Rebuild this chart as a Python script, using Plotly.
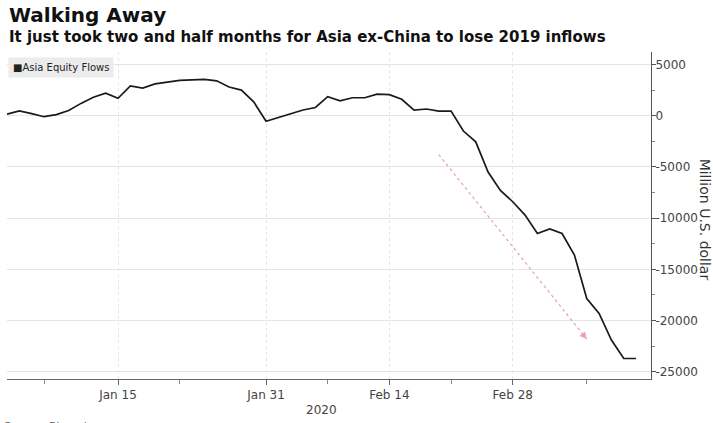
import pandas as pd
import plotly.graph_objects as go

# ---- data ----
dates = pd.bdate_range("2020-01-02", "2020-03-13")
flows = [150, 470, 200, -100, 100, 500, 1200, 1800, 2200, 1700,
         2900, 2700, 3100, 3300, 3450, 3500, 3550, 3400, 2800, 2500,
         1350, -550, -200, 200, 550, 800, 1850, 1450, 1750, 1750,
         2100, 2050, 1600, 550, 650, 450, 450, -1500, -2550, -5500,
         -7300, -8400, -9700, -11500, -11050, -11500, -13600, -17850, -19300, -21900,
         -23700, -23700]
series_name = "Asia Equity Flows"

x_tick_vals = ["2020-01-15", "2020-01-31", "2020-02-14", "2020-02-28"]
x_tick_text = ["Jan 15", "Jan 31", "Feb 14", "Feb 28"]
x_minor_vals = ["2020-01-07", "2020-01-22", "2020-02-07", "2020-02-21", "2020-03-09"]
y_tick_vals = [5000, 0, -5000, -10000, -15000, -20000, -25000]
y_tick_text = [str(v) for v in y_tick_vals]

arrow_start = ("2020-02-20", -3800)
arrow_end = ("2020-03-09", -21800)

title = "Walking Away"
subtitle = "It just took two and half months for Asia ex-China to lose 2019 inflows"
y_title = "Million U.S. dollar"
year_label = "2020"
source = "Source: Bloomberg"

FONT = "DejaVu Sans"

fig = go.Figure()
fig.add_trace(go.Scatter(
    x=dates, y=flows, mode="lines", name=series_name,
    line=dict(color="#1a1a1a", width=1.7), showlegend=False,
))

fig.update_layout(
    width=713, height=423,
    margin=dict(l=7, r=62, t=52, b=44, autoexpand=False),
    paper_bgcolor="white", plot_bgcolor="white",
    font=dict(family=FONT, size=12, color="#444"),
    xaxis=dict(
        automargin=False,
        range=["2020-01-02", "2020-03-16 05:00"],
        rangebreaks=[dict(bounds=["sat", "mon"])],
        tickmode="array", tickvals=x_tick_vals, ticktext=x_tick_text,
        ticks="outside", ticklen=5, tickcolor="#666",
        showline=True, linecolor="#666", linewidth=1,
        showgrid=True, gridcolor="#e4e4e4", griddash="dot",
        tickfont=dict(family=FONT, size=12, color="#444"),
        minor=dict(tickmode="array", tickvals=x_minor_vals, ticks="outside",
                   ticklen=4, tickcolor="#888", showgrid=False),
        zeroline=False,
    ),
    yaxis=dict(
        automargin=False,
        side="right", range=[-25700, 6215],
        tickmode="array", tickvals=y_tick_vals, ticktext=y_tick_text,
        ticks="outside", ticklen=4, tickcolor="#555",
        showline=True, linecolor="#555", linewidth=1,
        showgrid=True, gridcolor="#e4e4e4",
        ticklabelstandoff=-3,
        tickfont=dict(family=FONT, size=12, color="#444"),
        minor=dict(dtick=2500, ticks="outside", ticklen=3, tickcolor="#888", showgrid=False),
        zeroline=False,
    ),
)

# arrow: dotted pink line plus arrowhead
fig.add_shape(type="line", xref="x", yref="y",
              x0=arrow_start[0], y0=arrow_start[1], x1=arrow_end[0], y1=arrow_end[1],
              line=dict(color="#eaa0ad", width=1.2, dash="dot"))
fig.add_annotation(x=arrow_end[0], y=arrow_end[1], xref="x", yref="y",
                   ax=-5, ay=-6, axref="pixel", ayref="pixel", text="",
                   showarrow=True, arrowhead=2, arrowsize=1.4, arrowwidth=1,
                   arrowcolor="#eaa0ad")

# titles
fig.add_annotation(x=0, y=1.114, xref="paper", yref="paper", xanchor="left", yanchor="middle",
                   text="<b>%s</b>" % title, showarrow=False,
                   font=dict(family=FONT, size=20, color="#111"))
fig.add_annotation(x=0, y=1.046, xref="paper", yref="paper", xanchor="left", yanchor="middle",
                   text="<b>%s</b>" % subtitle, showarrow=False,
                   font=dict(family=FONT, size=15, color="#111"))

# legend box
fig.add_annotation(x=0.001, y=0.985, xref="paper", yref="paper", xanchor="left", yanchor="top",
                   text="■" + series_name, showarrow=False, bgcolor="#ececec", borderpad=4,
                   font=dict(family=FONT, size=10, color="#222"))

# y title (reads top to bottom)
fig.add_annotation(x=1.083, y=0.486, xref="paper", yref="paper", xanchor="center", yanchor="middle",
                   text=y_title, textangle=90, showarrow=False,
                   font=dict(family=FONT, size=14, color="#333"))

# year label
fig.add_annotation(x=0.489, y=-0.095, xref="paper", yref="paper", xanchor="center", yanchor="middle",
                   text=year_label, showarrow=False,
                   font=dict(family=FONT, size=12, color="#444"))

# source (cut at bottom)
fig.add_annotation(x=-0.008, y=-0.12, xref="paper", yref="paper", xanchor="left", yanchor="top",
                   text=source, showarrow=False,
                   font=dict(family=FONT, size=11, color="#666"))

fig.write_html(
    "out.html",
    config={"displayModeBar": False},
    post_script="document.body.style.margin='0';document.body.style.overflow='hidden';",
)
